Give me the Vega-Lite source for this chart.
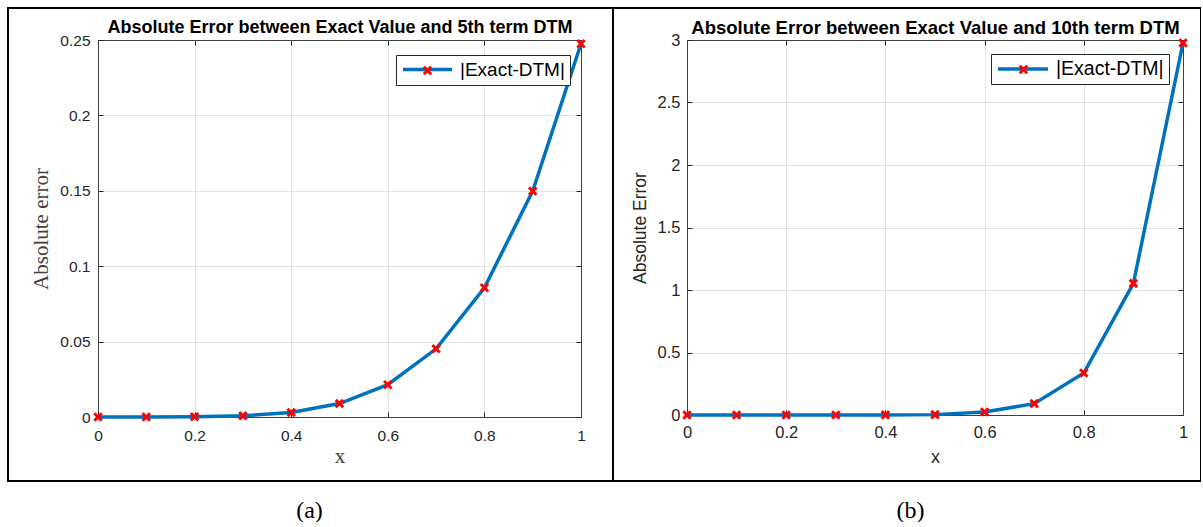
{
  "$schema": "https://vega.github.io/schema/vega-lite/v6.json",
  "padding": {"left": 8, "top": 7, "right": 0, "bottom": 0},
  "background": "white",
  "width": 1193,
  "height": 473,
  "datasets": {
    "a": [
      {"x": 0, "err": 0}, {"x": 0.1, "err": 0.00001}, {"x": 0.2, "err": 0.0002}, {"x": 0.3, "err": 0.0008},
      {"x": 0.4, "err": 0.003}, {"x": 0.5, "err": 0.0089}, {"x": 0.6, "err": 0.0214}, {"x": 0.7, "err": 0.0452},
      {"x": 0.8, "err": 0.0857}, {"x": 0.9, "err": 0.1498}, {"x": 1, "err": 0.2475}
    ],
    "b": [
      {"x": 0, "err": 0}, {"x": 0.1, "err": 0}, {"x": 0.2, "err": 0}, {"x": 0.3, "err": 0.0003},
      {"x": 0.4, "err": 0.001}, {"x": 0.5, "err": 0.003}, {"x": 0.6, "err": 0.024}, {"x": 0.7, "err": 0.091},
      {"x": 0.8, "err": 0.336}, {"x": 0.9, "err": 1.053}, {"x": 1, "err": 2.976}
    ]
  },
  "config": {
    "font": "Liberation Sans",
    "view": {"stroke": "#000000", "strokeWidth": 2},
    "axis": {
      "ticks": false, "tickSize": 0, "tickColor": "#262626", "tickWidth": 1, "domainColor": "#404040", "domainWidth": 1,
      "gridColor": "#e3e3e3", "gridWidth": 1,
      "labelFont": "Liberation Sans", "labelColor": "#262626", "labelFlush": false, "labelOverlap": false,
      "titleFont": "Liberation Sans", "titleFontWeight": "normal", "titleColor": "#262626", "titleBaseline": "middle"
    }
  },
  "resolve": {"scale": {"x": "independent", "y": "independent", "color": "independent", "stroke": "independent"}},
  "layer": [
    {
      "data": {"name": "a"},
      "resolve": {"axis": {"x": "independent", "y": "independent"}},
      "layer": [
        {
          "mark": {"type": "line", "strokeWidth": 3.5},
          "encoding": {
            "x": {"field": "x", "type": "quantitative", "scale": {"domain": [0, 1], "range": [90, 573], "nice": false, "zero": false},
              "axis": {"orient": "top", "offset": -409, "values": [0, 0.2, 0.4, 0.6, 0.8, 1], "format": "~g", "grid": true,
                "ticks": true, "tickSize": 5,
                "labelFontSize": 15.5, "labelBaseline": "middle", "labelPadding": -23,
                "title": "x", "titleFont": "Liberation Serif", "titleFontSize": 21, "titleColor": "#404040", "titleY": 39}},
            "y": {"field": "err", "type": "quantitative", "scale": {"domain": [0, 0.25], "range": [409, 32], "nice": false},
              "axis": {"orient": "right", "offset": -1103, "values": [0, 0.05, 0.1, 0.15, 0.2, 0.25], "format": "~g", "grid": false,
                "ticks": true, "tickSize": 5,
                "labelFontSize": 15.5, "labelAlign": "right", "labelPadding": -13,
                "title": "Absolute error", "titleFont": "Liberation Serif", "titleFontSize": 21, "titleColor": "#404040", "titleAngle": 270, "titleX": -57}},
            "color": {"datum": "|Exact-DTM|", "scale": {"range": ["#0072BD"]},
              "legend": {"orient": "none", "legendX": 388, "legendY": 47, "title": null, "symbolType": "stroke", "symbolSize": 2401, "symbolStrokeWidth": 3.5,
                "labelFontSize": 19, "labelFont": "Liberation Sans", "labelColor": "#000000", "labelOffset": 6, "padding": 5,
                "strokeColor": "#262626", "fillColor": "#ffffff", "clipHeight": 19, "labelLimit": 300}}
          }
        },
        {
          "mark": {"type": "point", "shape": "M-1,-1L1,1M-1,1L1,-1", "filled": false, "strokeWidth": 3, "size": 55, "opacity": 1},
          "encoding": {
            "x": {"field": "x", "type": "quantitative", "scale": {"domain": [0, 1], "range": [90, 573], "nice": false, "zero": false},
              "axis": {"orient": "bottom", "offset": -441, "values": [0, 0.2, 0.4, 0.6, 0.8, 1], "labels": false, "grid": false, "ticks": true, "tickSize": 5,
                "title": "Absolute Error between Exact Value and 5th term DTM", "titleFontSize": 18, "titleFontWeight": "bold", "titleColor": "#000000", "titleY": -13}},
            "y": {"field": "err", "type": "quantitative", "scale": {"domain": [0, 0.25], "range": [409, 32], "nice": false},
              "axis": {"orient": "left", "offset": -573, "values": [0, 0.05, 0.1, 0.15, 0.2, 0.25], "labels": false, "grid": true, "ticks": true, "tickSize": 5, "title": null}},
            "stroke": {"datum": "marker", "scale": {"range": ["#FF0000"]},
              "legend": {"orient": "none", "legendX": 414, "legendY": 57, "title": null, "symbolType": "M-1,-1L1,1M-1,1L1,-1", "symbolSize": 55,
                "symbolStrokeWidth": 3, "symbolStrokeColor": "#FF0000", "labelExpr": "''", "labelFontSize": 1, "padding": 0}}
          }
        },
        {
          "mark": {"type": "rule", "stroke": "#000000", "strokeWidth": 2},
          "encoding": {
            "x": {"datum": 1.06625, "type": "quantitative", "scale": {"domain": [0, 1], "range": [90, 573], "nice": false, "zero": false},
              "axis": {"orient": "bottom", "domain": false, "labels": false, "grid": false,
                "title": "(a)", "titleFont": "Liberation Serif", "titleFontSize": 24, "titleColor": "#000000", "titleX": 301, "titleY": 29}}
          }
        }
      ]
    },
    {
      "data": {"name": "b"},
      "resolve": {"axis": {"x": "independent", "y": "independent"}},
      "layer": [
        {
          "mark": {"type": "line", "strokeWidth": 3.5},
          "encoding": {
            "x": {"field": "x", "type": "quantitative", "scale": {"domain": [0, 1], "range": [679, 1175], "nice": false, "zero": false},
              "axis": {"orient": "top", "offset": -407, "values": [0, 0.2, 0.4, 0.6, 0.8, 1], "format": "~g", "grid": true,
                "ticks": true, "tickSize": 5,
                "labelFontSize": 16.5, "labelBaseline": "middle", "labelPadding": -22,
                "title": "x", "titleFontSize": 18, "titleY": 42}},
            "y": {"field": "err", "type": "quantitative", "scale": {"domain": [0, 3], "range": [407, 32], "nice": false},
              "axis": {"orient": "right", "offset": -514, "values": [0, 0.5, 1, 1.5, 2, 2.5, 3], "format": "~g", "grid": false,
                "ticks": true, "tickSize": 5,
                "labelFontSize": 16.5, "labelAlign": "right", "labelPadding": -12,
                "title": "Absolute Error", "titleFontSize": 17.5, "titleAngle": 270, "titleX": -47}},
            "color": {"datum": "|Exact-DTM|", "scale": {"range": ["#0072BD"]},
              "legend": {"orient": "none", "legendX": 983, "legendY": 46, "title": null, "symbolType": "stroke", "symbolSize": 2500, "symbolStrokeWidth": 3.5,
                "labelFontSize": 19.5, "labelFont": "Liberation Sans", "labelColor": "#000000", "labelOffset": 6, "padding": 5,
                "strokeColor": "#262626", "fillColor": "#ffffff", "clipHeight": 20, "labelLimit": 300}}
          }
        },
        {
          "mark": {"type": "point", "shape": "M-1,-1L1,1M-1,1L1,-1", "filled": false, "strokeWidth": 3, "size": 55, "opacity": 1},
          "encoding": {
            "x": {"field": "x", "type": "quantitative", "scale": {"domain": [0, 1], "range": [679, 1175], "nice": false, "zero": false},
              "axis": {"orient": "bottom", "offset": -441, "values": [0, 0.2, 0.4, 0.6, 0.8, 1], "labels": false, "grid": false, "ticks": true, "tickSize": 5,
                "title": "Absolute Error between Exact Value and 10th term DTM", "titleFontSize": 18.5, "titleFontWeight": "bold", "titleColor": "#000000", "titleY": -13}},
            "y": {"field": "err", "type": "quantitative", "scale": {"domain": [0, 3], "range": [407, 32], "nice": false},
              "axis": {"orient": "left", "offset": -1175, "values": [0, 0.5, 1, 1.5, 2, 2.5, 3], "labels": false, "grid": true, "ticks": true, "tickSize": 5, "title": null}},
            "stroke": {"datum": "marker", "scale": {"range": ["#FF0000"]},
              "legend": {"orient": "none", "legendX": 1010, "legendY": 56, "title": null, "symbolType": "M-1,-1L1,1M-1,1L1,-1", "symbolSize": 55,
                "symbolStrokeWidth": 3, "symbolStrokeColor": "#FF0000", "labelExpr": "''", "labelFontSize": 1, "padding": 0}}
          }
        },
        {
          "mark": {"type": "rule", "stroke": "#000000", "strokeWidth": 2},
          "encoding": {
            "x": {"datum": -0.14919, "type": "quantitative", "scale": {"domain": [0, 1], "range": [679, 1175], "nice": false, "zero": false},
              "axis": {"orient": "bottom", "domain": false, "labels": false, "grid": false,
                "title": "(b)", "titleFont": "Liberation Serif", "titleFontSize": 24, "titleColor": "#000000", "titleX": 902, "titleY": 29}}
          }
        }
      ]
    }
  ]
}
